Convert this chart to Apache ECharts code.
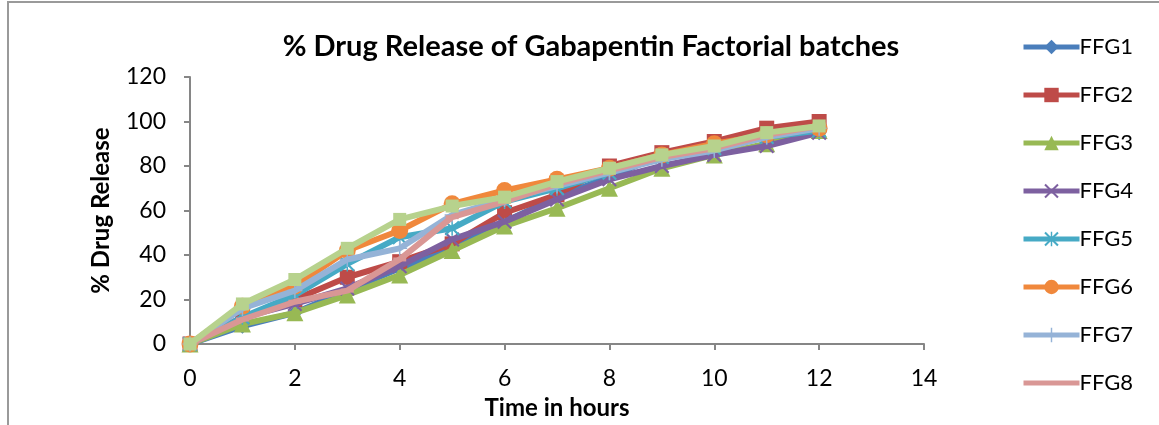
<!DOCTYPE html>
<html>
<head>
<meta charset="utf-8">
<title>% Drug Release of Gabapentin Factorial batches</title>
<script src="https://cdn.jsdelivr.net/npm/echarts@6/dist/echarts.min.js"></script>
<style>
	html, body { margin: 0; padding: 0; background: #fff; }
	#wrap { position: relative; width: 1159px; height: 425px; overflow: hidden; }
	#chart { width: 1159px; height: 425px; }
	#frame { position: absolute; left: 7px; top: 1px; width: 1200px; height: 500px; border: 2px solid #9a9a9a; pointer-events: none; }
</style>
</head>
<body>
<div id="wrap">
	<div id="chart"></div>
	<div id="frame"></div>
</div>
<script>
	'use strict';
	// time points (hours)
	var hours = [0, 1, 2, 3, 4, 5, 6, 7, 8, 9, 10, 11, 12];
	// % drug release per batch
	var ffg1 = [0, 8, 14, 24, 34, 43, 55, 66, 75, 85, 90, 93, 95];
	var ffg2 = [0, 12, 20, 30, 37, 45, 59, 67, 80, 86, 91, 97, 100];
	var ffg3 = [0, 9, 14, 22, 31, 42, 53, 61, 70, 79, 85, 90, 96];
	var ffg4 = [0, 12, 18, 25, 35, 47, 55, 65, 74, 80, 85, 89, 95];
	var ffg5 = [0, 12, 22, 36, 48, 52, 64, 70, 77, 84, 88, 93, 96];
	var ffg6 = [0, 17, 26, 42, 51, 63, 69, 74, 79, 85, 90, 94, 97];
	var ffg7 = [0, 16, 24, 38, 43, 58, 65, 71, 77, 83, 87, 93, 97];
	var ffg8 = [0, 11, 19, 24, 38, 57, 64, 72, 78, 84, 88, 94, 98];
	var ffg9 = [0, 18, 29, 43, 56, 62, 66, 73, 79, 85, 89, 95, 98];
	var xTicks = [0, 2, 4, 6, 8, 10, 12, 14];
	var yTicks = [0, 20, 40, 60, 80, 100, 120];

	var names = ['FFG1', 'FFG2', 'FFG3', 'FFG4', 'FFG5', 'FFG6', 'FFG7', 'FFG8', 'FFG9'];
	var values = [ffg1, ffg2, ffg3, ffg4, ffg5, ffg6, ffg7, ffg8, ffg9];
	var colors = ['#4A7EBB', '#BE4B48', '#98B954', '#7D60A0', '#46AAC5', '#F0883C', '#95B3D7', '#D99795', '#B7D28D'];
	var xMark = 'path://M1,0L5,4L9,0L10,1L6,5L10,9L9,10L5,6L1,10L0,9L4,5L0,1Z';
	var star = 'path://M1,0L5,4L9,0L10,1L6,5L10,9L9,10L5,6L1,10L0,9L4,5L0,1Z M4.5,0H5.5V10H4.5Z';
	var plus = 'path://M4.5,0H5.5V4.5H10V5.5H5.5V10H4.5V5.5H0V4.5H4.5Z';
	var symbols = ['diamond', 'rect', 'triangle', xMark, star, 'circle', plus, 'rect', 'rect'];
	var sizes = [15, 15, 17, 15, 15, 17, 15, [13, 4], 13];

	var font = 'Lato, "Open Sans", sans-serif';

	var series = names.map(function(name, i) {
		return {
			name : name,
			type : 'line',
			data : hours.map(function(h, j) { return [h, values[i][j]]; }),
			symbol : symbols[i],
			symbolSize : sizes[i],
			showAllSymbol : true,
			lineStyle : { width : 6, color : colors[i] },
			itemStyle : { color : colors[i] },
			z : 2 + i
		};
	});

	// legend shows the first eight batches; FFG8's dash marker is hidden in the line
	var legendItems = names.slice(0, 8).map(function(name) {
		return name === 'FFG8' ? { name : name, itemStyle : { opacity : 0 } } : { name : name };
	});

	var chart = echarts.init(document.getElementById('chart'), null, { renderer : 'canvas' });
	chart.setOption({
		backgroundColor : '#ffffff',
		animation : false,
		color : colors,
		title : {
			text : '% Drug Release of Gabapentin Factorial batches',
			left : 586,
			textAlign : 'center',
			top : 27,
			textStyle : { fontFamily : font, fontSize : 29, fontWeight : 'bold', color : '#000' }
		},
		legend : {
			data : legendItems,
			orient : 'vertical',
			left : 1016,
			top : 31,
			itemWidth : 56,
			itemHeight : 18,
			itemGap : 26,
			lineStyle : { width : 5 },
			textStyle : { fontFamily : font, fontSize : 22, lineHeight : 22, color : '#000', padding : [0, 0, 0, -5] }
		},
		grid : { left : 190, right : 235, top : 77, bottom : 79 },
		xAxis : {
			type : 'value',
			min : xTicks[0],
			max : xTicks[xTicks.length - 1],
			interval : xTicks[1] - xTicks[0],
			name : 'Time in hours',
			nameLocation : 'middle',
			nameGap : 52,
			nameTextStyle : { fontFamily : font, fontSize : 24, fontWeight : 'bold', color : '#000' },
			axisLine : { lineStyle : { color : '#868686', width : 2 } },
			axisTick : { length : 6, lineStyle : { color : '#868686', width : 2 } },
			axisLabel : { margin : 23, fontSize : 23, color : '#000', fontFamily : font },
			splitLine : { show : false }
		},
		yAxis : {
			type : 'value',
			min : yTicks[0],
			max : yTicks[yTicks.length - 1],
			interval : yTicks[1] - yTicks[0],
			name : '% Drug Release',
			nameLocation : 'middle',
			nameGap : 77,
			nameTextStyle : { fontFamily : font, fontSize : 24, fontWeight : 'bold', color : '#000' },
			axisLine : { show : true, lineStyle : { color : '#868686', width : 2 } },
			axisTick : { show : true, length : 6, lineStyle : { color : '#868686', width : 2 } },
			axisLabel : { margin : 24, fontSize : 23, color : '#000', fontFamily : font },
			splitLine : { show : false }
		},
		series : series
	});
</script>
</body>
</html>
